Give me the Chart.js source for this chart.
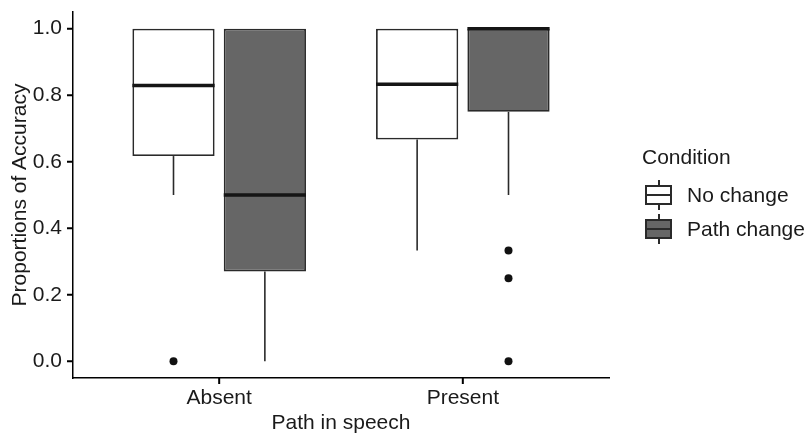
<!DOCTYPE html>
<html lang="en">
<head>
  <meta charset="UTF-8" />
  <title>Proportions of Accuracy</title>
  <script src="https://cdn.jsdelivr.net/npm/chart.js"></script>
  <style>
    body {
      margin: 0;
      background: #fff;
      font-family: "Liberation Sans", Arial, sans-serif;
    }
    .wrap {
      position: relative;
      width: 809px;
      height: 434px;
    }
    .legend {
      position: absolute;
      left: 642px;
      top: 145px;
      color: #1a1a1a;
      font-size: 21px;
    }
    .legend .title {
      margin-bottom: 9px;
    }
    .legend .item {
      display: flex;
      align-items: center;
      height: 34px;
    }
    .key {
      position: relative;
      width: 27px;
      height: 30px;
      margin: 0 15px 0 3px;
    }
    .key .box {
      position: absolute;
      left: 0; top: 5px;
      width: 23px; height: 16px;
      border: 2px solid #2a2a2a;
    }
    .key .box::after {
      content: '';
      position: absolute;
      left: 0; right: 0; top: 6.5px;
      border-top: 2.5px solid #2a2a2a;
    }
    .key .wh {
      position: absolute;
      left: 12.5px;
      width: 2px;
      background: #2a2a2a;
    }
  </style>
</head>
<body>
  <div class="wrap">
    <canvas id="chart"></canvas>
    <div class="legend" id="legend"></div>
  </div>

  <script>
    const categories = ['Absent', 'Present'];
    const conditions = ['No change', 'Path change'];
    const fills = ['#ffffff', '#666666'];
    const yTicks = [0, 0.2, 0.4, 0.6, 0.8, 1.0];

    // box stats per category: Absent, Present
    const noChangeLow = [0.5, 0.333];
    const noChangeQ1 = [0.617, 0.667];
    const noChangeMedian = [0.829, 0.833];
    const noChangeQ3 = [1.0, 1.0];
    const noChangeHigh = [1.0, 1.0];
    const noChangeOutliers = [[0], []];

    const pathChangeLow = [0, 0.5];
    const pathChangeQ1 = [0.27, 0.75];
    const pathChangeMedian = [0.5, 1.0];
    const pathChangeQ3 = [1.0, 1.0];
    const pathChangeHigh = [1.0, 1.0];
    const pathChangeOutliers = [[], [0.333, 0.25, 0]];

    const stats = [
      { low: noChangeLow, q1: noChangeQ1, med: noChangeMedian, q3: noChangeQ3, high: noChangeHigh, out: noChangeOutliers },
      { low: pathChangeLow, q1: pathChangeQ1, med: pathChangeMedian, q3: pathChangeQ3, high: pathChangeHigh, out: pathChangeOutliers }
    ];

    const lineColor = '#2a2a2a';
    const textColor = '#1a1a1a';
    const font = { family: '"Liberation Sans", Arial, sans-serif', size: 21 };

    // whiskers under the boxes, medians, outliers and axis tick marks on top
    const boxParts = {
      id: 'boxParts',
      beforeDatasetsDraw(chart) {
        const ctx = chart.ctx;
        const y = chart.scales.y;
        ctx.save();
        ctx.strokeStyle = lineColor;
        ctx.lineWidth = 1.6;
        stats.forEach((s, d) => {
          chart.getDatasetMeta(d).data.forEach((el, i) => {
            ctx.beginPath();
            ctx.moveTo(el.x, y.getPixelForValue(s.q1[i]));
            ctx.lineTo(el.x, y.getPixelForValue(s.low[i]));
            ctx.moveTo(el.x, y.getPixelForValue(s.q3[i]));
            ctx.lineTo(el.x, y.getPixelForValue(s.high[i]));
            ctx.stroke();
          });
        });
        ctx.restore();
      },
      afterDatasetsDraw(chart) {
        const ctx = chart.ctx;
        const { x, y } = chart.scales;
        ctx.save();
        stats.forEach((s, d) => {
          chart.getDatasetMeta(d).data.forEach((el, i) => {
            const py = y.getPixelForValue(s.med[i]);
            ctx.strokeStyle = '#151515';
            ctx.lineWidth = 3.5;
            ctx.beginPath();
            ctx.moveTo(el.x - el.width / 2, py);
            ctx.lineTo(el.x + el.width / 2, py);
            ctx.stroke();
            ctx.fillStyle = '#111';
            s.out[i].forEach(v => {
              ctx.beginPath();
              ctx.arc(el.x, y.getPixelForValue(v), 4, 0, Math.PI * 2);
              ctx.fill();
            });
          });
        });
        // axis tick marks
        ctx.strokeStyle = '#000';
        ctx.lineWidth = 2;
        ctx.beginPath();
        categories.forEach((c, i) => {
          const px = x.getPixelForValue(i + 1);
          ctx.moveTo(px, chart.chartArea.bottom);
          ctx.lineTo(px, chart.chartArea.bottom + 6);
        });
        yTicks.forEach(v => {
          const py = y.getPixelForValue(v);
          ctx.moveTo(chart.chartArea.left, py);
          ctx.lineTo(chart.chartArea.left - 6, py);
        });
        ctx.stroke();
        ctx.restore();
      }
    };

    new Chart(document.getElementById('chart'), {
      type: 'bar',
      data: {
        datasets: stats.map((s, d) => ({
          label: conditions[d],
          data: categories.map((c, i) => ({ x: i + 1, y: [s.q1[i], s.q3[i]] })),
          backgroundColor: fills[d],
          borderColor: lineColor,
          borderWidth: 1.8,
          borderSkipped: false,
          categoryPercentage: 0.75,
          barPercentage: 0.9
        }))
      },
      options: {
        responsive: true,
        maintainAspectRatio: false,
        animation: false,
        layout: { padding: { top: 12, right: 200, left: 0, bottom: 0 } },
        plugins: { legend: { display: false }, tooltip: { enabled: false } },
        scales: {
          x: {
            type: 'linear',
            min: 0.4,
            max: 2.6,
            offset: false,
            afterBuildTicks: scale => { scale.ticks = categories.map((c, i) => ({ value: i + 1 })); },
            afterFit: scale => { scale.height = 56; scale.paddingLeft = 0; scale.paddingRight = 0; },
            ticks: {
              color: textColor,
              font: font,
              padding: 2,
              maxRotation: 0,
              callback: v => categories[v - 1]
            },
            grid: { display: false, drawTicks: true, tickLength: 6 },
            border: { display: true, color: '#000', width: 1.5 },
            title: { display: true, text: 'Path in speech', color: textColor, font: font, padding: { top: 0, bottom: -2 } }
          },
          y: {
            min: -0.05,
            max: 1.05,
            afterBuildTicks: scale => { scale.ticks = yTicks.map(v => ({ value: v })); },
            afterFit: scale => { scale.width = 73; scale.paddingTop = 0; scale.paddingBottom = 0; },
            ticks: {
              color: textColor,
              font: font,
              padding: 5,
              callback: v => v.toFixed(1)
            },
            grid: { display: false, drawTicks: true, tickLength: 6 },
            border: { display: true, color: '#000', width: 1.5 },
            title: { display: true, text: 'Proportions of Accuracy', color: textColor, font: font, padding: { top: 8, bottom: 0 } }
          }
        }
      },
      plugins: [boxParts]
    });

    // html legend
    const legend = document.getElementById('legend');
    legend.innerHTML = '<div class="title">Condition</div>' + conditions.map((c, d) =>
      `<div class="item"><div class="key">
         <div class="wh" style="top:0;height:5px"></div>
         <div class="box" style="background:${fills[d]}"></div>
         <div class="wh" style="top:25px;height:5px"></div>
       </div><span>${c}</span></div>`).join('');
  </script>
</body>
</html>
